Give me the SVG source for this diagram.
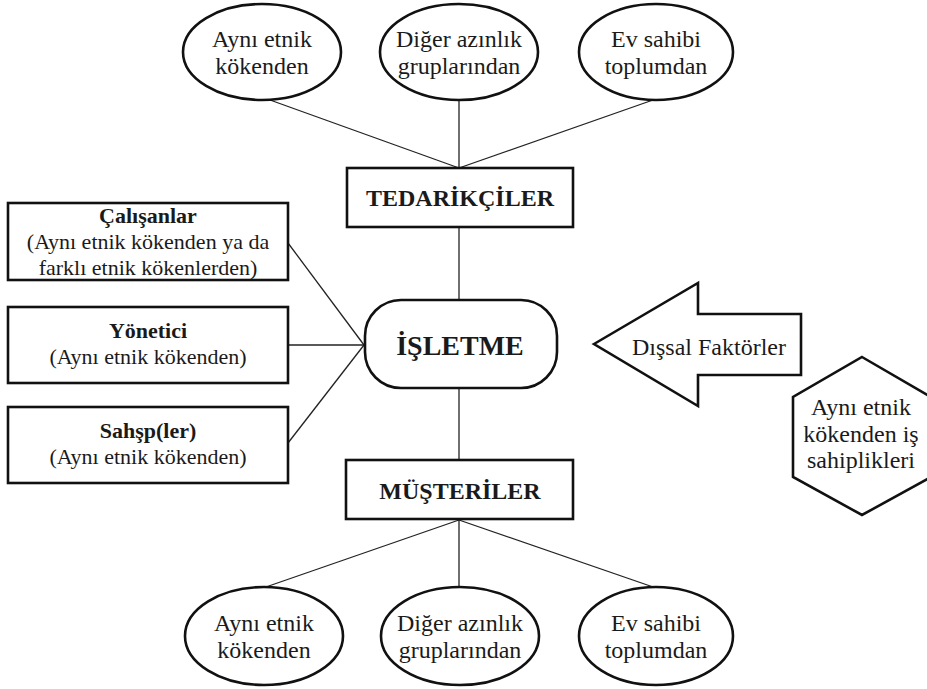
<svg xmlns="http://www.w3.org/2000/svg" width="927" height="689" viewBox="0 0 927 689">
<rect width="927" height="689" fill="#fff"/>
<g id="connectors" stroke="#222" stroke-width="1.3" fill="none">
<line x1="270" y1="100" x2="459" y2="168"/>
<line x1="459" y1="100" x2="459" y2="168"/>
<line x1="653" y1="100" x2="459" y2="168"/>
<line x1="459" y1="227" x2="459" y2="300"/>
<line x1="459" y1="388" x2="459" y2="460"/>
<line x1="288" y1="243" x2="364" y2="345"/>
<line x1="288" y1="345" x2="364" y2="345"/>
<line x1="288" y1="443" x2="364" y2="345"/>
<line x1="459" y1="520" x2="263" y2="588"/>
<line x1="459" y1="520" x2="459" y2="588"/>
<line x1="459" y1="520" x2="656" y2="588"/>
</g>
<g id="nodes" fill="#fff" stroke="#111" stroke-width="2.6">
<g id="sup-same">
<ellipse cx="262" cy="52" rx="79" ry="48"/>
<text font-family="Liberation Serif" font-size="24" fill="#1a1a1a" stroke="none" text-anchor="middle" x="262" y="47">Aynı etnik</text>
<text font-family="Liberation Serif" font-size="24" fill="#1a1a1a" stroke="none" text-anchor="middle" x="262" y="74">kökenden</text>
</g>
<g id="sup-minority">
<ellipse cx="459" cy="52" rx="79" ry="48"/>
<text font-family="Liberation Serif" font-size="24" fill="#1a1a1a" stroke="none" text-anchor="middle" x="459" y="47">Diğer azınlık</text>
<text font-family="Liberation Serif" font-size="24" fill="#1a1a1a" stroke="none" text-anchor="middle" x="459" y="74">gruplarından</text>
</g>
<g id="sup-host">
<ellipse cx="656" cy="52" rx="77" ry="48"/>
<text font-family="Liberation Serif" font-size="24" fill="#1a1a1a" stroke="none" text-anchor="middle" x="656" y="47">Ev sahibi</text>
<text font-family="Liberation Serif" font-size="24" fill="#1a1a1a" stroke="none" text-anchor="middle" x="656" y="74">toplumdan</text>
</g>
<g id="tedarikciler">
<rect x="347" y="168" width="226" height="59"/>
<text font-family="Liberation Serif" font-size="24" font-weight="bold" fill="#1a1a1a" stroke="none" text-anchor="middle" x="460" y="206">TEDARİKÇİLER</text>
</g>
<g id="calisanlar">
<rect x="8" y="203" width="280" height="77"/>
<text font-family="Liberation Serif" font-size="22" font-weight="bold" fill="#1a1a1a" stroke="none" text-anchor="middle" x="148" y="223">Çalışanlar</text>
<text font-family="Liberation Serif" font-size="22" fill="#1a1a1a" stroke="none" text-anchor="middle" x="148" y="249">(Aynı etnik kökenden ya da</text>
<text font-family="Liberation Serif" font-size="22" fill="#1a1a1a" stroke="none" text-anchor="middle" x="148" y="275">farklı etnik kökenlerden)</text>
</g>
<g id="yonetici">
<rect x="8" y="307" width="280" height="76"/>
<text font-family="Liberation Serif" font-size="22" font-weight="bold" fill="#1a1a1a" stroke="none" text-anchor="middle" x="148" y="338">Yönetici</text>
<text font-family="Liberation Serif" font-size="22" fill="#1a1a1a" stroke="none" text-anchor="middle" x="148" y="364">(Aynı etnik kökenden)</text>
</g>
<g id="sahsplar">
<rect x="8" y="407" width="280" height="76"/>
<text font-family="Liberation Serif" font-size="22" font-weight="bold" fill="#1a1a1a" stroke="none" text-anchor="middle" x="148" y="438">Sahşp(ler)</text>
<text font-family="Liberation Serif" font-size="22" fill="#1a1a1a" stroke="none" text-anchor="middle" x="148" y="464">(Aynı etnik kökenden)</text>
</g>
<g id="isletme">
<rect x="365" y="300" width="192" height="88" rx="36" ry="36"/>
<text font-family="Liberation Serif" font-size="28" font-weight="bold" fill="#1a1a1a" stroke="none" text-anchor="middle" x="460" y="355">İŞLETME</text>
</g>
<g id="musteriler">
<rect x="346" y="460" width="227" height="59"/>
<text font-family="Liberation Serif" font-size="24" font-weight="bold" fill="#1a1a1a" stroke="none" text-anchor="middle" x="460" y="499">MÜŞTERİLER</text>
</g>
<g id="cus-same">
<ellipse cx="264" cy="636" rx="79" ry="49"/>
<text font-family="Liberation Serif" font-size="24" fill="#1a1a1a" stroke="none" text-anchor="middle" x="264" y="631">Aynı etnik</text>
<text font-family="Liberation Serif" font-size="24" fill="#1a1a1a" stroke="none" text-anchor="middle" x="264" y="658">kökenden</text>
</g>
<g id="cus-minority">
<ellipse cx="460" cy="636" rx="79" ry="49"/>
<text font-family="Liberation Serif" font-size="24" fill="#1a1a1a" stroke="none" text-anchor="middle" x="460" y="631">Diğer azınlık</text>
<text font-family="Liberation Serif" font-size="24" fill="#1a1a1a" stroke="none" text-anchor="middle" x="460" y="658">gruplarından</text>
</g>
<g id="cus-host">
<ellipse cx="656" cy="636" rx="77" ry="49"/>
<text font-family="Liberation Serif" font-size="24" fill="#1a1a1a" stroke="none" text-anchor="middle" x="656" y="631">Ev sahibi</text>
<text font-family="Liberation Serif" font-size="24" fill="#1a1a1a" stroke="none" text-anchor="middle" x="656" y="658">toplumdan</text>
</g>
<g id="dissal">
<polygon points="594,344 698,283 698,314 801,314 801,375 698,375 698,406"/>
<text font-family="Liberation Serif" font-size="24" fill="#1a1a1a" stroke="none" text-anchor="middle" x="709" y="355">Dışsal Faktörler</text>
</g>
<g id="is-sahiplikleri">
<polygon points="862,357 931,397 931,477 862,515 793,477 793,397"/>
<text font-family="Liberation Serif" font-size="24" fill="#1a1a1a" stroke="none" text-anchor="middle" x="861" y="415">Aynı etnik</text>
<text font-family="Liberation Serif" font-size="24" fill="#1a1a1a" stroke="none" text-anchor="middle" x="861" y="442">kökenden iş</text>
<text font-family="Liberation Serif" font-size="24" fill="#1a1a1a" stroke="none" text-anchor="middle" x="861" y="468">sahiplikleri</text>
</g>
</g>
</svg>
